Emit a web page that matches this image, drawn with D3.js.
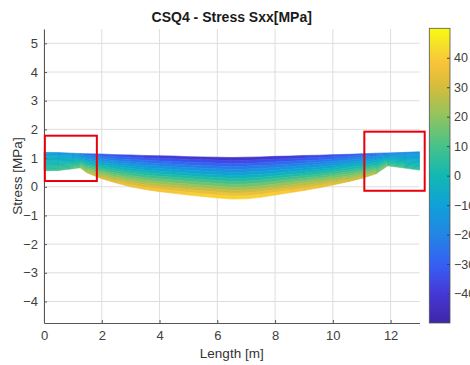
<!DOCTYPE html>
<html>
<head>
<meta charset="utf-8">
<script src="https://cdn.jsdelivr.net/npm/d3@7"></script>
<style>
  body { margin: 0; background: #fff; }
  text { font-family: Helvetica, Arial, "Liberation Sans", sans-serif; }
</style>
</head>
<body>
<div id="chart"></div>
<script>
// beam stations along the length [m]
var stations   = [0, 0.5, 1.0, 1.25, 1.5, 2, 2.5, 3, 3.5, 4, 4.5, 5, 5.5, 6, 6.5, 7, 7.5, 8, 8.5, 9, 9.5, 10, 10.5, 11, 11.5, 11.9, 12.5, 13];
// upper and lower edge of the plotted shape
var topEdge    = [1.20, 1.19, 1.17, 1.16, 1.15, 1.14, 1.12, 1.11, 1.09, 1.08, 1.07, 1.05, 1.04, 1.03, 1.02, 1.03, 1.04, 1.06, 1.07, 1.09, 1.10, 1.12, 1.13, 1.15, 1.17, 1.18, 1.20, 1.22];
var bottomEdge = [0.56, 0.57, 0.63, 0.66, 0.48, 0.28, 0.13, 0.00, -0.10, -0.17, -0.23, -0.29, -0.34, -0.39, -0.43, -0.42, -0.37, -0.29, -0.21, -0.13, -0.04, 0.06, 0.17, 0.29, 0.45, 0.73, 0.65, 0.58];
// stress Sxx at top / bottom fibre [MPa]
var stressTop    = [-10, -12, -18, -22, -28, -33, -36, -38, -40, -42, -43, -44, -45, -46, -46, -46, -45, -44, -43, -41, -39, -37, -34, -31, -27, -22, -19, -16];
var stressBottom = [6, 8, 12, 18, 28, 33, 36, 38, 40, 41, 42, 43, 44, 45, 45, 45, 44, 43, 42, 40, 38, 36, 33, 30, 26, 14, 8, 4];

var xTicks = [0, 2, 4, 6, 8, 10, 12];
var yTicks = [-4, -3, -2, -1, 0, 1, 2, 3, 4, 5];
var cbTicks = [-40, -30, -20, -10, 0, 10, 20, 30, 40];
// highlighted regions [x0, x1, y0, y1]
var boxes = [[0.03, 1.83, 0.2, 1.78], [11.09, 13.18, -0.14, 1.92]];

// parula colormap
var parulaPos = [0, 0.1, 0.2, 0.3, 0.4, 0.5, 0.6, 0.7, 0.8, 0.88, 0.95, 1];
var parulaCol = ["#3e26a8", "#4638d6", "#3560f5", "#2385e4", "#0fa1d8", "#12b8b2", "#46c28a", "#8fc460", "#d4bc3c", "#f8c33a", "#f5e328", "#f9fb0e"];
var cMin = -50, cMax = 50;
var color = d3.scaleLinear()
  .domain(parulaPos.map(function(p) { return cMin + p * (cMax - cMin); }))
  .range(parulaCol)
  .interpolate(d3.interpolateRgb)
  .clamp(true);

var margin = {top: 29, right: 50.5, bottom: 42, left: 44},
    width = 470 - margin.left - margin.right,
    height = 365 - margin.top - margin.bottom;

var svg = d3.select("#chart")
  .append("svg")
    .attr("width", 470)
    .attr("height", 365)
  .append("g")
    .attr("transform", "translate(" + margin.left + "," + margin.top + ")");

var x = d3.scaleLinear().domain([0, 13]).range([0, width]);
var y = d3.scaleLinear().domain([-4.75, 5.5]).range([height, 0]);

// grid
svg.append("g").selectAll("line.gx")
  .data(xTicks).enter().append("line")
    .attr("x1", function(d) { return x(d); }).attr("x2", function(d) { return x(d); })
    .attr("y1", 0).attr("y2", height)
    .attr("stroke", "#dedede").attr("stroke-width", 1);
svg.append("g").selectAll("line.gy")
  .data(yTicks).enter().append("line")
    .attr("y1", function(d) { return y(d); }).attr("y2", function(d) { return y(d); })
    .attr("x1", 0).attr("x2", width)
    .attr("stroke", "#dedede").attr("stroke-width", 1);

// stress cells
var nLayers = 14;
var cells = [];
for (var i = 0; i < stations.length - 1; i++) {
  for (var k = 0; k < nLayers; k++) {
    var f0 = k / nLayers, f1 = (k + 1) / nLayers, fm = (f0 + f1) / 2;
    var ya = function(j, f) { return topEdge[j] + (bottomEdge[j] - topEdge[j]) * f; };
    var s = ((stressTop[i] + (stressBottom[i] - stressTop[i]) * fm) +
             (stressTop[i + 1] + (stressBottom[i + 1] - stressTop[i + 1]) * fm)) / 2;
    cells.push({
      pts: [[stations[i], ya(i, f0)], [stations[i + 1], ya(i + 1, f0)],
            [stations[i + 1], ya(i + 1, f1)], [stations[i], ya(i, f1)]],
      s: s
    });
  }
}
svg.append("g").selectAll("polygon")
  .data(cells).enter().append("polygon")
    .attr("points", function(d) { return d.pts.map(function(p) { return x(p[0]) + "," + y(p[1]); }).join(" "); })
    .attr("fill", function(d) { return color(d.s); })
    .attr("stroke", function(d) { return color(d.s); })
    .attr("stroke-width", 0.6);

// axes
var xAxis = svg.append("g")
  .attr("transform", "translate(0," + height + ")")
  .call(d3.axisBottom(x).tickValues(xTicks).tickSize(-3).tickSizeOuter(0).tickPadding(8));
var yAxis = svg.append("g")
  .call(d3.axisLeft(y).tickValues(yTicks).tickSize(-3).tickSizeOuter(0).tickPadding(6));
[xAxis, yAxis].forEach(function(a) {
  a.select(".domain").attr("stroke", "#555");
  a.selectAll(".tick line").attr("stroke", "#555");
  a.selectAll(".tick text").attr("fill", "#404040").style("font-size", "13px")
    .style("font-family", "Helvetica, Arial, 'Liberation Sans', sans-serif");
});

// red boxes
svg.append("g").selectAll("rect")
  .data(boxes).enter().append("rect")
    .attr("x", function(d) { return x(d[0]); })
    .attr("y", function(d) { return y(d[3]); })
    .attr("width", function(d) { return x(d[1]) - x(d[0]); })
    .attr("height", function(d) { return y(d[2]) - y(d[3]); })
    .attr("fill", "none").attr("stroke", "#e8000b").attr("stroke-width", 2);

// labels
svg.append("text")
  .attr("x", width / 2).attr("y", -7)
  .attr("text-anchor", "middle")
  .style("font-size", "14px").style("font-weight", "bold").attr("fill", "#1a1a1a")
  .text("CSQ4 - Stress Sxx[MPa]");
svg.append("text")
  .attr("x", width / 2).attr("y", height + 35)
  .attr("text-anchor", "middle")
  .style("font-size", "13.5px").attr("fill", "#333")
  .text("Length [m]");
svg.append("text")
  .attr("transform", "translate(" + (22 - margin.left) + "," + (height / 2) + ") rotate(-90)")
  .attr("text-anchor", "middle")
  .style("font-size", "13.5px").attr("fill", "#333")
  .text("Stress [MPa]");

// colorbar
var cbX = 429.3 - margin.left, cbW = 20.7;
var cbY = d3.scaleLinear().domain([cMin, cMax]).range([height, -0.7]);
var defs = d3.select("svg").append("defs");
var grad = defs.append("linearGradient").attr("id", "parula")
  .attr("x1", 0).attr("y1", 1).attr("x2", 0).attr("y2", 0);
grad.selectAll("stop").data(parulaPos).enter().append("stop")
  .attr("offset", function(d) { return d; })
  .attr("stop-color", function(d, i) { return parulaCol[i]; });
var cb = svg.append("g").attr("transform", "translate(" + cbX + ",0)");
cb.append("rect")
  .attr("x", 0).attr("y", cbY(cMax)).attr("width", cbW).attr("height", cbY(cMin) - cbY(cMax))
  .attr("fill", "url(#parula)").attr("stroke", "#555").attr("stroke-width", 0.8);
cb.append("g")
  .attr("transform", "translate(" + cbW + ",0)")
  .call(d3.axisRight(cbY).tickValues(cbTicks).tickSize(-3).tickSizeOuter(0).tickPadding(4))
  .call(function(g) {
    g.select(".domain").remove();
    g.selectAll(".tick line").attr("stroke", "#444");
    g.selectAll(".tick text").attr("fill", "#404040").style("font-size", "12.5px")
      .style("font-family", "Helvetica, Arial, 'Liberation Sans', sans-serif");
  });
</script>
</body>
</html>
